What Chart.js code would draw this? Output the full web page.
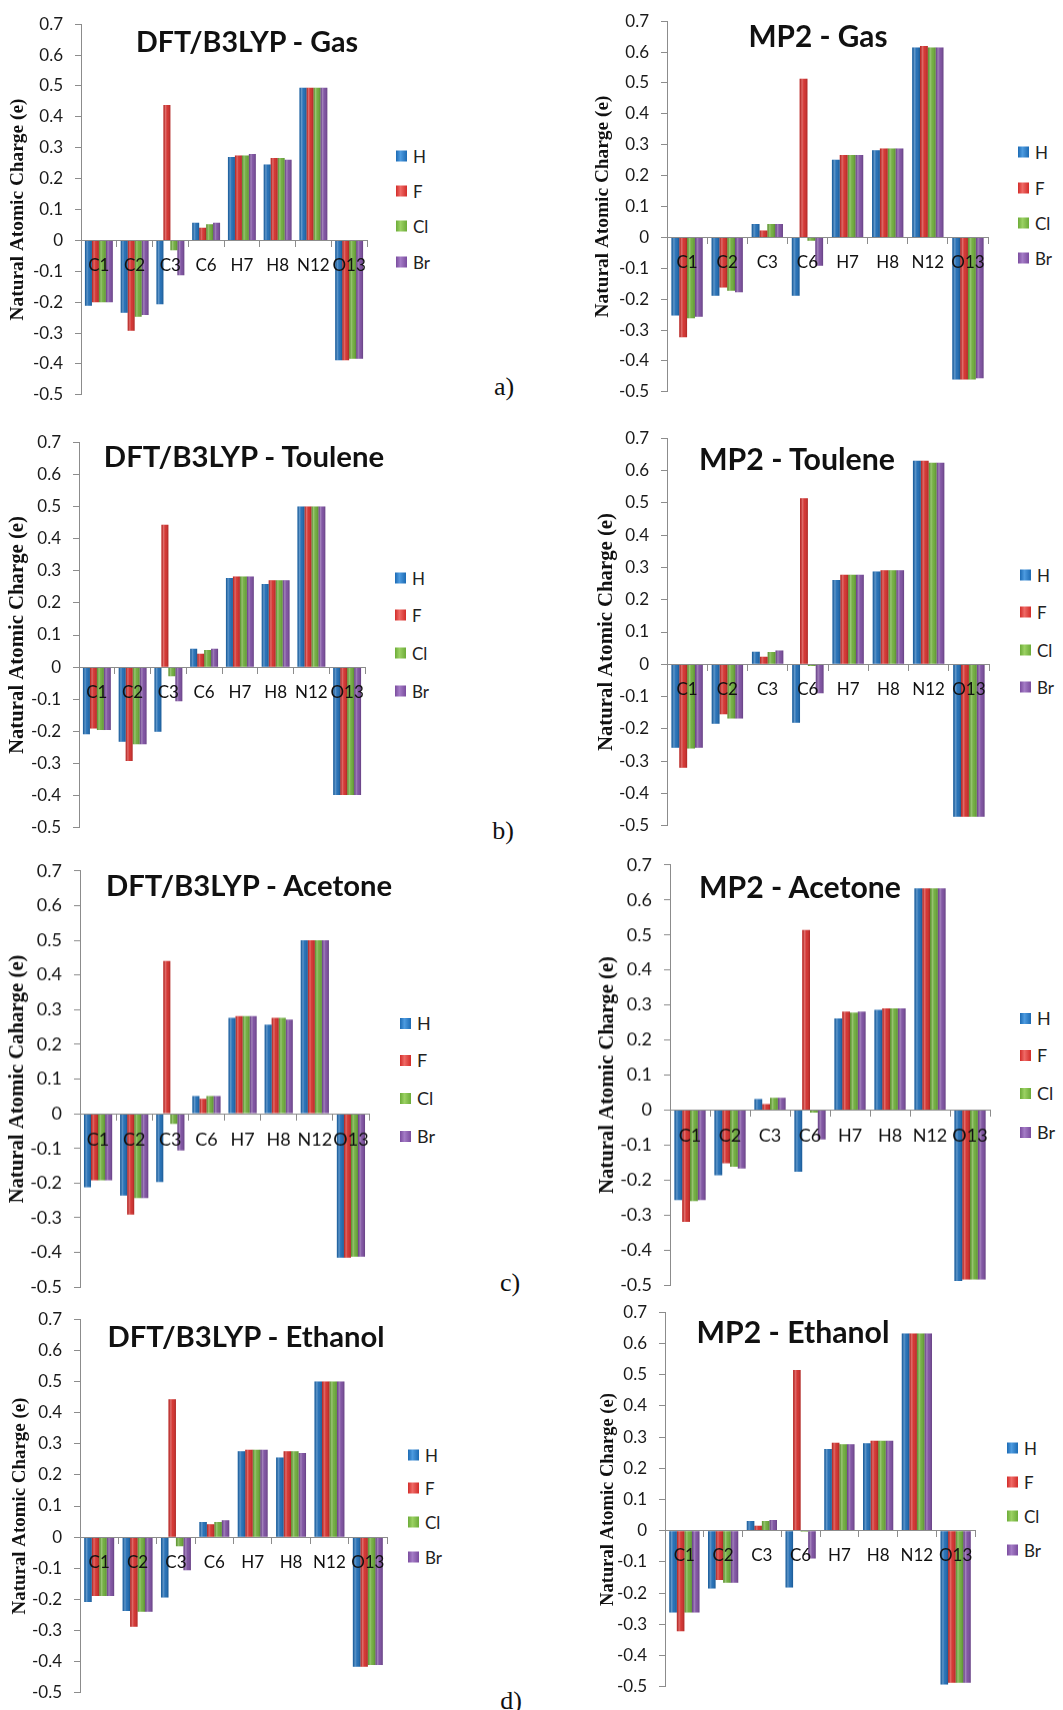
<!DOCTYPE html>
<html><head><meta charset="utf-8">
<script src="https://cdn.jsdelivr.net/npm/chart.js@4.4.0/dist/chart.umd.min.js"></script>
<style>
html,body{margin:0;padding:0;background:#fff;}
#fig{position:relative;width:1063px;height:1710px;overflow:hidden;background:#fff;}
canvas{position:absolute;}
.title{position:absolute;font-family:Lato,'Open Sans',sans-serif;font-weight:700;color:#111;white-space:nowrap;line-height:1;transform:translate(-50%,-50%);}
.leg{position:absolute;display:flex;align-items:center;font-family:Lato,'Open Sans',sans-serif;font-size:17px;color:#222;line-height:1;white-space:nowrap;transform:translateY(-50%);}
.leg i{display:inline-block;width:11px;height:11px;margin-right:6px;}
.letter{position:absolute;font-family:'Liberation Serif','Times New Roman',serif;font-size:26px;color:#111;line-height:1;transform:translate(-50%,-50%);}
</style>
</head><body><div id="fig"></div>
<script>
// ---------- data ----------
const categories = ['C1','C2','C3','C6','H7','H8','N12','O13'];
const seriesNames = ['H','F','Cl','Br'];
const yTicks = [0.7,0.6,0.5,0.4,0.3,0.2,0.1,0,-0.1,-0.2,-0.3,-0.4,-0.5];

// a) Gas
const dftGas_H  = [-0.212,-0.234,-0.207,0.057,0.270,0.246,0.494,-0.388];
const dftGas_F  = [-0.200,-0.293, 0.438,0.041,0.275,0.267,0.494,-0.388];
const dftGas_Cl = [-0.200,-0.247,-0.032,0.052,0.275,0.267,0.494,-0.383];
const dftGas_Br = [-0.200,-0.242,-0.113,0.057,0.280,0.261,0.494,-0.383];
const mp2Gas_H  = [-0.253,-0.189,0.043,-0.189,0.251,0.282,0.615,-0.460];
const mp2Gas_F  = [-0.323,-0.162,0.022, 0.514,0.267,0.288,0.620,-0.460];
const mp2Gas_Cl = [-0.262,-0.173,0.043,-0.011,0.267,0.288,0.615,-0.460];
const mp2Gas_Br = [-0.257,-0.178,0.043,-0.092,0.267,0.288,0.615,-0.456];
// b) Toulene
const dftTol_H  = [-0.209,-0.232,-0.201,0.057,0.277,0.259,0.500,-0.398];
const dftTol_F  = [-0.191,-0.292, 0.443,0.042,0.282,0.270,0.500,-0.398];
const dftTol_Cl = [-0.196,-0.240,-0.028,0.053,0.282,0.270,0.500,-0.398];
const dftTol_Br = [-0.196,-0.240,-0.106,0.057,0.282,0.270,0.500,-0.398];
const mp2Tol_H  = [-0.258,-0.184,0.039,-0.181,0.261,0.287,0.630,-0.472];
const mp2Tol_F  = [-0.320,-0.155,0.023, 0.514,0.277,0.291,0.630,-0.472];
const mp2Tol_Cl = [-0.261,-0.168,0.038,-0.005,0.277,0.291,0.624,-0.472];
const mp2Tol_Br = [-0.258,-0.168,0.043,-0.090,0.277,0.291,0.624,-0.472];
// c) Acetone
const dftAce_H  = [-0.212,-0.236,-0.197,0.051,0.276,0.257,0.500,-0.415];
const dftAce_F  = [-0.192,-0.291, 0.440,0.043,0.281,0.276,0.500,-0.415];
const dftAce_Cl = [-0.192,-0.243,-0.029,0.051,0.281,0.276,0.500,-0.412];
const dftAce_Br = [-0.192,-0.243,-0.106,0.051,0.281,0.271,0.500,-0.412];
const mp2Ace_H  = [-0.257,-0.186,0.031,-0.176,0.262,0.286,0.633,-0.488];
const mp2Ace_F  = [-0.319,-0.152,0.017, 0.514,0.281,0.290,0.633,-0.484];
const mp2Ace_Cl = [-0.260,-0.162,0.035,-0.007,0.278,0.290,0.633,-0.484];
const mp2Ace_Br = [-0.257,-0.167,0.035,-0.084,0.281,0.290,0.633,-0.484];
// d) Ethanol
const dftEth_H  = [-0.208,-0.237,-0.194,0.049,0.276,0.256,0.500,-0.416];
const dftEth_F  = [-0.189,-0.288, 0.443,0.041,0.281,0.276,0.500,-0.416];
const dftEth_Cl = [-0.189,-0.240,-0.029,0.049,0.281,0.276,0.500,-0.411];
const dftEth_Br = [-0.189,-0.240,-0.106,0.054,0.281,0.270,0.500,-0.411];
const mp2Eth_H  = [-0.262,-0.185,0.031,-0.182,0.262,0.280,0.632,-0.493];
const mp2Eth_F  = [-0.322,-0.158,0.016, 0.515,0.282,0.288,0.632,-0.487];
const mp2Eth_Cl = [-0.262,-0.167,0.031,-0.003,0.277,0.288,0.632,-0.487];
const mp2Eth_Br = [-0.262,-0.167,0.034,-0.089,0.277,0.288,0.632,-0.487];

const titles = ['DFT/B3LYP - Gas','MP2 - Gas','DFT/B3LYP - Toulene','MP2 - Toulene',
                'DFT/B3LYP - Acetone','MP2 - Acetone','DFT/B3LYP - Ethanol','MP2 - Ethanol'];
const yTitles = ['Natural Atomic Charge (e)','Natural Atomic Charge (e)','Natural Atomic Charge (e)','Natural Atomic Charge (e)',
                 'Natural Atomic Caharge (e)','Natural Atomic Charge (e)','Natural Atomic Charge (e)','Natural Atomic Charge (e)'];
const panelSeries = [
  [dftGas_H,dftGas_F,dftGas_Cl,dftGas_Br],[mp2Gas_H,mp2Gas_F,mp2Gas_Cl,mp2Gas_Br],
  [dftTol_H,dftTol_F,dftTol_Cl,dftTol_Br],[mp2Tol_H,mp2Tol_F,mp2Tol_Cl,mp2Tol_Br],
  [dftAce_H,dftAce_F,dftAce_Cl,dftAce_Br],[mp2Ace_H,mp2Ace_F,mp2Ace_Cl,mp2Ace_Br],
  [dftEth_H,dftEth_F,dftEth_Cl,dftEth_Br],[mp2Eth_H,mp2Eth_F,mp2Eth_Cl,mp2Eth_Br]
];
const letters = ['a)','b)','c)','d)'];

// ---------- layout / style ----------
const colors = ['#1c6ab3','#d22c29','#6cab38','#7a4c9e'];
const light  = ['#4d9be0','#ef6a66','#9bd163','#a47cc6'];
const layout = [
  {ax:81, right:367, top:24,  bot:395,  tx:247, ty:41,   tw:223, yl:222, yd:63, lx:396,  ly:[156,191,226,262],    fs:17},
  {ax:667,right:988, top:21,  bot:392,  tx:818, ty:36,   tw:139, yl:222, yd:64, lx:1018, ly:[152,188,223,258],    fs:17},
  {ax:79, right:365, top:442, bot:828,  tx:244, ty:456,  tw:282, yl:238, yd:61, lx:395,  ly:[578,615,653,691],    fs:17},
  {ax:667,right:989, top:438, bot:826,  tx:797, ty:458,  tw:197, yl:238, yd:60, lx:1020, ly:[575,612,650,687],    fs:17},
  {ax:80, right:369, top:871, bot:1287, tx:249, ty:885,  tw:288, yl:248, yd:62, lx:400,  ly:[1023,1060,1098,1136],fs:18},
  {ax:670,right:990, top:865, bot:1285, tx:800, ty:886,  tw:203, yl:237, yd:62, lx:1020, ly:[1018,1055,1093,1132],fs:18},
  {ax:80, right:387, top:1319,bot:1693, tx:246, ty:1336, tw:278, yl:217, yd:60, lx:408,  ly:[1455,1488,1522,1557],fs:17},
  {ax:665,right:975, top:1312,bot:1687, tx:793, ty:1331, tw:193, yl:213, yd:57, lx:1007, ly:[1448,1482,1516,1550],fs:17}
];
const letterPos = [[504,387],[503,831],[510,1283],[511,1701]];

const fig = document.getElementById('fig');
const mctx = document.createElement('canvas').getContext('2d');
function fitSize(text, font, target){ mctx.font = font.replace('SIZE','100px'); return 100*target/mctx.measureText(text).width; }

const shade = {
  id:'shade',
  afterDatasetsDraw(chart){
    const ctx = chart.ctx; ctx.save();
    chart.data.datasets.forEach((ds,i)=>{
      chart.getDatasetMeta(i).data.forEach(el=>{
        const p = el.getProps(['x','y','base','width'], true);
        const l = p.x - p.width/2;
        const g = ctx.createLinearGradient(l,0,l+p.width,0);
        g.addColorStop(0,'rgba(0,0,0,0.10)');
        g.addColorStop(0.3,'rgba(255,255,255,0.30)');
        g.addColorStop(0.55,'rgba(255,255,255,0.06)');
        g.addColorStop(1,'rgba(0,0,0,0.18)');
        ctx.fillStyle = g;
        ctx.fillRect(l, Math.min(p.y,p.base), p.width, Math.abs(p.base-p.y));
      });
    });
    ctx.restore();
  }
};

const AXW = 81, PT = 12, PB = 12, PR = 14;
function config(k, L){
  const ytFont = fitSize(yTitles[k], 'bold SIZE "Liberation Serif"', L.yl);
  const ytLH = ytFont*1.2;
  return {
    type:'bar',
    data:{
      labels: categories,
      datasets: seriesNames.map((n,i)=>({label:n, data:panelSeries[k][i], backgroundColor:colors[i], borderWidth:0,
        barPercentage:1.0, categoryPercentage:0.78}))
    },
    options:{
      responsive:false, maintainAspectRatio:false, animation:false, devicePixelRatio:1,
      layout:{padding:{left:0, top:PT, right:PR, bottom:PB}},
      plugins:{legend:{display:false}, tooltip:{enabled:false}},
      scales:{
        x:{
          type:'category', position:{y:0}, offset:true,
          grid:{display:true, drawOnChartArea:false, drawTicks:true, tickLength:6, color:'#8c8c8c', offset:true, z:1},
          border:{display:true, color:'#8c8c8c', width:1, z:1},
          ticks:{color:'#111', font:{family:'Lato', size:L.fs}, padding:9, maxRotation:0, autoSkip:false, z:2}
        },
        y:{
          min:-0.5, max:0.7,
          afterBuildTicks: s => { s.ticks = yTicks.map(v=>({value:v})); },
          afterFit: s => { s.width = AXW; },
          grid:{display:true, drawOnChartArea:false, drawTicks:true, tickLength:6, color:'#8c8c8c'},
          border:{display:true, color:'#8c8c8c', width:1},
          ticks:{color:'#1a1a1a', font:{family:'Lato', size:L.fs}, padding:12,
                 callback: v => String(Math.round(v*10)/10)},
          title:{display:true, text:yTitles[k], color:'#111',
                 font:{family:'Liberation Serif', weight:'bold', size:ytFont},
                 padding:{top: AXW - L.yd - ytLH/2, bottom:0}}
        }
      }
    },
    plugins:[shade]
  };
}

function makeCanvas(w,h){
  const cv = document.createElement('canvas');
  cv.width = w; cv.height = h; cv.style.width = w+'px'; cv.style.height = h+'px';
  fig.appendChild(cv); return cv;
}

layout.forEach((L, k)=>{
  let cw = L.right - L.ax + AXW + PR, ch = L.bot - L.top + PT + PB;
  // first pass: measure where the library puts the plot area
  const probe = makeCanvas(cw, ch);
  const c0 = new Chart(probe, config(k, L));
  const a0 = c0.chartArea;
  const dw = (L.right - L.ax) - (a0.right - a0.left);
  const dh = (L.bot - L.top) - (a0.bottom - a0.top);
  c0.destroy(); probe.remove();
  // second pass with corrected canvas size
  const cv = makeCanvas(cw + dw, ch + dh);
  const chart = new Chart(cv, config(k, L));
  const a = chart.chartArea;
  cv.style.left = (L.ax - a.left)+'px';
  cv.style.top = (L.top - a.top)+'px';

  const t = document.createElement('div');
  t.className = 'title'; t.textContent = titles[k];
  t.style.fontSize = fitSize(titles[k], 'bold SIZE Lato', L.tw).toFixed(2)+'px';
  t.style.left = L.tx+'px'; t.style.top = L.ty+'px';
  fig.appendChild(t);

  seriesNames.forEach((n,i)=>{
    const d = document.createElement('div');
    d.className = 'leg';
    d.style.left = L.lx+'px'; d.style.top = L.ly[i]+'px'; d.style.fontSize = L.fs+'px';
    const b = document.createElement('i');
    b.style.background = 'linear-gradient(90deg,'+colors[i]+' 0%,'+light[i]+' 40%,'+colors[i]+' 100%)';
    d.appendChild(b);
    d.appendChild(document.createTextNode(n));
    fig.appendChild(d);
  });
});

letters.forEach((s,i)=>{
  const d = document.createElement('div');
  d.className = 'letter'; d.textContent = s;
  d.style.left = letterPos[i][0]+'px'; d.style.top = letterPos[i][1]+'px';
  fig.appendChild(d);
});
</script>
</body></html>
